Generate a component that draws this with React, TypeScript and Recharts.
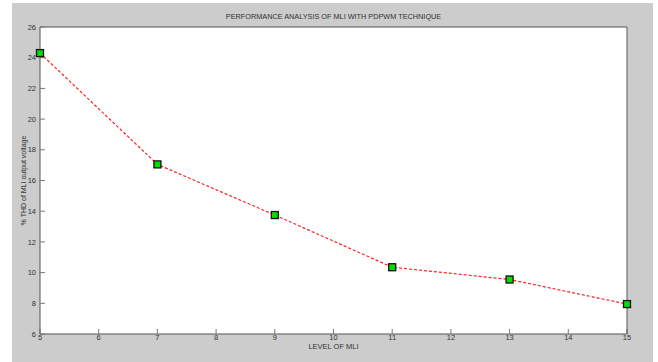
import { LineChart, Line, XAxis, YAxis, CartesianGrid, Label } from 'recharts';

const levels = [5, 7, 9, 11, 13, 15];
const thdValues = [24.3, 17.05, 13.75, 10.35, 9.55, 7.95];
const xTicks = [5, 6, 7, 8, 9, 10, 11, 12, 13, 14, 15];
const yTicks = [6, 8, 10, 12, 14, 16, 18, 20, 22, 24, 26];

const data = levels.map((level, i) => ({ level, thd: thdValues[i] }));

const FONT = '"Liberation Sans", Arial, sans-serif';
const tickStyle = { fill: '#333', fontSize: 7.5, fontFamily: FONT };

function SquareDot(props: any) {
    const { cx, cy } = props;
    if (cx == null || cy == null) return null;
    return <rect x={cx - 3.5} y={cy - 3.5} width={7} height={7} fill="#00dd00" stroke="#111" strokeWidth={1.3} />;
}

export default function App() {
    return (
        <div style={{ position: 'absolute', left: 0, top: 0, width: 658, height: 362, background: '#fff' }}>
            <div style={{ position: 'absolute', left: 12, top: 3, width: 641, height: 359, background: '#cccccc' }} />
            <div style={{ position: 'absolute', left: 0, top: 0 }}>
                <LineChart width={658} height={362} data={data} margin={{ top: 26, right: 30, bottom: 27, left: 39 }}>
                    <CartesianGrid horizontal={false} vertical={false} fill="#fff" />
                    <XAxis
                        dataKey="level"
                        type="number"
                        domain={[5, 15]}
                        ticks={xTicks}
                        height={1}
                        tickSize={-5}
                        tickMargin={6}
                        stroke="#555"
                        tickLine={{ stroke: '#777' }}
                        tick={tickStyle}
                        interval={0}
                    >
                        <Label value="LEVEL OF MLI" position="bottom" offset={9} style={{ fill: '#333', fontSize: 7.5, fontFamily: FONT }} />
                    </XAxis>
                    <XAxis
                        xAxisId="top"
                        orientation="top"
                        dataKey="level"
                        type="number"
                        domain={[5, 15]}
                        ticks={xTicks}
                        height={1}
                        tickSize={-5}
                        stroke="#555"
                        tickLine={{ stroke: '#777' }}
                        tick={false}
                        interval={0}
                    >
                        <Label value="PERFORMANCE ANALYSIS OF MLI WITH PDPWM TECHNIQUE" position="top" offset={7} style={{ fill: '#333', fontSize: 7.3, fontFamily: FONT }} />
                    </XAxis>
                    <YAxis
                        type="number"
                        domain={[6, 26]}
                        ticks={yTicks}
                        width={1}
                        tickSize={-5}
                        tickMargin={9}
                        stroke="#555"
                        tickLine={{ stroke: '#777' }}
                        tick={tickStyle}
                        interval={0}
                    >
                        <Label value="% THD of MLI output voltage" angle={-90} position="left" offset={15} style={{ fill: '#333', fontSize: 7, fontFamily: FONT, textAnchor: 'middle' }} />
                    </YAxis>
                    <YAxis
                        yAxisId="right"
                        orientation="right"
                        type="number"
                        domain={[6, 26]}
                        ticks={yTicks}
                        width={1}
                        tickSize={-5}
                        stroke="#555"
                        tickLine={{ stroke: '#777' }}
                        tick={false}
                        interval={0}
                    />
                    <Line
                        dataKey="thd"
                        type="linear"
                        stroke="#ff2020"
                        strokeWidth={1.2}
                        strokeDasharray="3 2"
                        dot={<SquareDot />}
                        activeDot={false}
                        isAnimationActive={false}
                    />
                </LineChart>
            </div>
        </div>
    );
}
